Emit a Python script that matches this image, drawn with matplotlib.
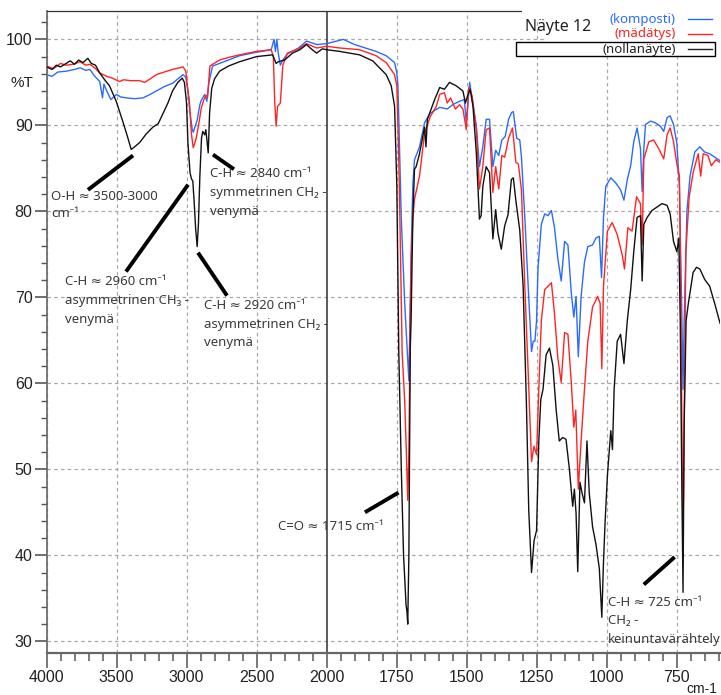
# IR-spektrit: komposti / mädätys / nollanäyte, yhteen kuvaan
import numpy as np
import matplotlib
matplotlib.use("Agg")
import matplotlib.pyplot as plt
from matplotlib.patches import Rectangle
from matplotlib.ticker import FixedLocator, NullFormatter

# aaltoluku (cm-1) ja läpäisy (%T), luettu spektreistä
wn_nolla = [4000, 3960, 3930, 3900, 3860, 3830, 3800, 3770, 3740, 3705, 3680, 3650, 3620, 3580, 3550,
            3502, 3452, 3420, 3395, 3371, 3335, 3288, 3240, 3202, 3170, 3133, 3100, 3062, 3031, 3015,
            3000, 2990, 2975, 2965, 2955, 2945, 2935, 2924, 2915, 2905, 2893, 2884, 2870, 2862, 2845,
            2835, 2820, 2800, 2764, 2700, 2621, 2500, 2385, 2360, 2345, 2300, 2243, 2190, 2143, 2110,
            2071, 2030, 2000, 1953, 1882, 1835, 1787, 1769, 1757, 1749, 1742, 1733, 1725, 1716, 1713,
            1710, 1706, 1703, 1701, 1698, 1692, 1686, 1680, 1668, 1650, 1645, 1640, 1614, 1596, 1579,
            1561, 1537, 1513, 1504, 1495, 1487, 1477, 1465, 1454, 1448, 1442, 1430, 1418, 1406, 1396,
            1388, 1376, 1364, 1352, 1340, 1333, 1323, 1310, 1298, 1286, 1278, 1268, 1259, 1250, 1242,
            1235, 1227, 1216, 1204, 1192, 1180, 1169, 1157, 1145, 1133, 1121, 1115, 1109, 1103, 1095,
            1088, 1079, 1070, 1062, 1050, 1038, 1026, 1017, 1011, 1005, 997, 985, 979, 973, 962,
            950, 938, 926, 914, 903, 891, 879, 873, 867, 855, 838, 820, 802, 784, 773,
            761, 749, 742, 737, 731, 727, 723, 716, 708, 691, 679, 667, 650, 632, 614, 595]
t_nolla = [96.8, 96.5, 97.0, 96.8, 97.2, 97.5, 97.1, 97.6, 97.3, 97.8, 97.2, 97.0, 96.1, 95.2, 94.6,
           92.8, 90.3, 88.6, 87.2, 87.5, 88.0, 89.0, 89.8, 90.2, 91.3, 92.6, 94.0, 95.0, 95.5, 95.0,
           92.6, 88.0, 84.5, 83.8, 83.5, 81.0, 78.0, 75.9, 78.5, 84.0, 88.5, 89.3, 88.9, 89.5, 86.8,
           91.5, 94.3, 95.4, 96.3, 96.9, 97.4, 98.0, 98.2, 97.2, 97.4, 97.6, 98.4, 98.8, 99.4, 98.9,
           98.4, 98.9, 98.8, 98.6, 98.2, 97.5, 95.9, 94.6, 92.2, 82.9, 63.6, 50.0, 40.0, 34.2, 33.5,
           32.0, 40.0, 55.0, 64.0, 67.4, 79.1, 84.9, 85.2, 86.7, 89.8, 87.5, 90.7, 93.0, 94.4, 94.2,
           95.0, 94.6, 94.0, 92.6, 93.6, 94.2, 92.2, 86.7, 79.1, 79.5, 82.9, 85.2, 84.5, 76.8, 80.2,
           77.5, 75.6, 78.3, 79.6, 83.7, 83.9, 81.0, 77.8, 71.3, 57.3, 45.3, 38.0, 41.7, 42.9, 53.3,
           58.1, 59.3, 63.3, 64.1, 62.1, 56.9, 53.3, 53.7, 53.5, 50.1, 45.7, 47.7, 44.9, 38.1, 48.5,
           47.3, 46.1, 53.3, 47.3, 43.3, 41.3, 38.5, 32.8, 39.3, 44.1, 49.3, 54.5, 52.3, 59.3, 64.9,
           65.7, 62.3, 67.3, 70.9, 75.3, 79.3, 79.5, 71.9, 78.5, 79.3, 80.1, 80.5, 80.9, 80.7, 79.7,
           76.5, 75.3, 76.9, 67.3, 47.3, 35.7, 55.3, 67.3, 69.3, 72.9, 73.5, 73.3, 72.1, 71.3, 69.3, 67.0]

wn_madatys = [4000, 3950, 3900, 3860, 3810, 3760, 3720, 3690, 3650, 3620, 3570, 3530, 3480, 3450, 3400,
              3335, 3300, 3260, 3215, 3160, 3100, 3025, 3005, 2990, 2980, 2965, 2952, 2940, 2931, 2912,
              2895, 2876, 2860, 2850, 2833, 2764, 2700, 2621, 2500, 2395, 2380, 2370, 2360, 2350, 2330,
              2312, 2280, 2200, 2143, 2070, 2000, 1953, 1882, 1823, 1787, 1757, 1749, 1745, 1740, 1730,
              1721, 1715, 1710, 1706, 1701, 1697, 1692, 1686, 1668, 1650, 1630, 1608, 1596, 1579, 1569,
              1557, 1540, 1525, 1513, 1501, 1492, 1480, 1465, 1454, 1442, 1430, 1418, 1406, 1396, 1385,
              1374, 1364, 1350, 1336, 1324, 1315, 1304, 1292, 1280, 1268, 1259, 1250, 1242, 1233, 1221,
              1209, 1197, 1186, 1174, 1162, 1150, 1138, 1126, 1117, 1110, 1101, 1091, 1079, 1067, 1050,
              1032, 1023, 1017, 1011, 997, 980, 962, 944, 936, 924, 909, 893, 879, 873, 867,
              849, 832, 814, 796, 784, 773, 761, 749, 740, 734, 730, 727, 723, 717, 705,
              691, 673, 664, 655, 638, 626, 610, 595]
t_madatys = [96.9, 96.6, 97.2, 97.0, 97.1, 97.4, 97.0, 97.1, 96.6, 96.1, 95.7, 95.5, 95.1, 95.3, 95.2,
             95.2, 95.0, 95.4, 95.9, 96.2, 96.5, 96.8, 96.3, 94.0, 92.9, 89.0, 87.4, 88.0, 88.5, 90.2,
             92.0, 93.0, 93.5, 93.2, 96.9, 97.6, 97.9, 98.2, 98.6, 98.8, 98.0, 92.7, 89.9, 92.2, 92.6,
             97.0, 98.4, 98.9, 99.5, 99.0, 99.2, 99.0, 98.8, 98.1, 97.3, 95.9, 94.6, 90.0, 82.9, 63.6,
             58.0, 52.0, 46.4, 52.0, 68.0, 75.0, 79.1, 81.4, 84.1, 89.1, 91.0, 92.2, 93.6, 93.8, 92.6,
             93.2, 91.9, 92.4, 91.9, 89.5, 94.4, 93.4, 89.5, 82.6, 85.2, 89.5, 89.7, 82.2, 85.2, 82.6,
             86.5, 86.3, 88.5, 89.7, 85.7, 85.5, 82.5, 71.3, 61.3, 50.9, 52.7, 51.7, 59.3, 67.3, 70.9,
             71.3, 71.7, 68.1, 62.9, 60.1, 65.9, 65.7, 60.1, 54.9, 56.9, 47.7, 53.3, 59.3, 64.9, 68.9,
             70.1, 69.3, 61.7, 71.3, 77.7, 78.7, 77.3, 74.9, 73.3, 78.1, 77.7, 81.7, 80.9, 76.1, 86.1,
             88.1, 88.3, 87.3, 86.1, 88.9, 89.7, 88.1, 85.5, 84.1, 67.3, 50.0, 42.0, 55.0, 75.3, 81.7,
             84.5, 86.7, 84.1, 86.7, 86.5, 85.3, 86.0, 85.7]

wn_komposti = [4000, 3960, 3920, 3860, 3800, 3760, 3720, 3690, 3660, 3620, 3600, 3590, 3570, 3540, 3500,
               3470, 3430, 3370, 3310, 3260, 3215, 3160, 3100, 3025, 3005, 2990, 2975, 2960, 2952, 2940,
               2924, 2905, 2895, 2870, 2855, 2840, 2814, 2700, 2621, 2500, 2395, 2375, 2365, 2355, 2345,
               2330, 2312, 2280, 2200, 2143, 2070, 2000, 1940, 1900, 1823, 1787, 1757, 1749, 1745, 1733,
               1721, 1706, 1698, 1692, 1686, 1668, 1650, 1630, 1596, 1569, 1550, 1525, 1508, 1501, 1489,
               1480, 1465, 1454, 1442, 1430, 1418, 1406, 1396, 1385, 1374, 1362, 1350, 1339, 1333, 1321,
               1310, 1304, 1292, 1280, 1268, 1262, 1256, 1250, 1245, 1233, 1221, 1209, 1197, 1186, 1174,
               1162, 1150, 1138, 1126, 1117, 1109, 1101, 1091, 1079, 1067, 1050, 1038, 1026, 1018, 1011,
               1003, 985, 967, 950, 938, 926, 914, 903, 891, 879, 873, 867, 861, 843, 826,
               808, 796, 784, 773, 761, 749, 740, 731, 727, 723, 713, 702, 685, 667, 650,
               632, 614, 595]
t_komposti = [95.9, 95.7, 96.2, 96.3, 96.5, 96.7, 96.4, 96.5, 95.8, 95.1, 93.2, 94.8, 94.0, 93.0, 93.6,
              93.3, 93.2, 93.1, 93.2, 93.6, 94.0, 94.5, 94.9, 95.9, 95.6, 94.0, 91.5, 89.6, 89.2, 89.8,
              90.6, 92.4, 92.9, 93.6, 92.8, 95.0, 96.9, 97.6, 98.1, 98.5, 98.8, 100.0, 98.6, 100.0, 98.4,
              97.0, 97.6, 98.3, 99.0, 99.8, 99.4, 99.5, 100.0, 99.4, 98.6, 98.1, 97.3, 96.1, 94.6, 79.1,
              69.4, 60.3, 75.0, 83.0, 86.0, 87.5, 90.3, 91.4, 92.1, 91.9, 92.4, 92.8, 93.0, 90.3, 95.0,
              93.0, 89.9, 85.2, 87.5, 90.7, 90.7, 85.2, 87.1, 86.5, 88.3, 88.7, 90.7, 91.5, 91.6, 88.5,
              88.3, 86.3, 79.3, 71.3, 63.7, 64.9, 64.9, 67.3, 73.3, 78.5, 79.7, 79.5, 80.1, 78.1, 74.5,
              71.9, 76.5, 76.1, 70.5, 67.7, 70.1, 63.1, 70.1, 74.1, 75.9, 76.1, 76.9, 77.1, 72.3, 79.3,
              82.9, 83.9, 83.3, 82.5, 81.3, 83.7, 85.3, 88.1, 89.7, 87.3, 82.3, 87.3, 90.1, 90.5, 90.3,
              89.9, 89.3, 90.9, 91.1, 90.1, 87.9, 82.9, 67.3, 59.3, 67.3, 80.1, 84.1, 86.9, 87.5, 86.9,
              86.7, 86.3, 85.9]

x_major = [4000, 3500, 3000, 2500, 2000, 1750, 1500, 1250, 1000, 750]
y_major = [30, 40, 50, 60, 70, 80, 90, 100]


# alle 2000 cm-1 x-akseli on venytetty kaksinkertaiseksi
def eteen(x):
    x = np.asarray(x, dtype=float)
    return np.where(x >= 2000, x, 2 * x - 2000)


def taakse(u):
    u = np.asarray(u, dtype=float)
    return np.where(u >= 2000, u, (u + 2000) / 2)


W, H = 721, 695
fig = plt.figure(figsize=(W / 100, H / 100), dpi=100)
ax = fig.add_axes([46.5 / W, 42.5 / H, (720 - 46.5) / W, (652.5 - 11) / H])

ax.set_xscale("function", functions=(eteen, taakse))
ax.set_xlim(4000, 595)
ax.set_ylim(28.7, 103.3)

ax.plot(wn_komposti, t_komposti, color="#2a6bff", lw=1.0, zorder=3)
ax.plot(wn_madatys, t_madatys, color="#ff2424", lw=1.0, zorder=4)
ax.plot(wn_nolla, t_nolla, color="#111111", lw=1.0, zorder=5)

# ruudukko
viiva = dict(color="#a8a8a8", lw=0.9, ls=(0, (2.8, 2.6)), zorder=1)
for x in x_major:
    if x != 2000:
        ax.axvline(x, **viiva)
for y in y_major:
    ax.axhline(y, **viiva)
ax.axvline(2000, color="#303030", lw=1.1, zorder=2)

# akselit
ax.spines["right"].set_visible(False)
ax.spines["top"].set_color("#333333")
ax.spines["top"].set_linewidth(0.9)
ax.spines["left"].set_color("#666666")
ax.spines["left"].set_linewidth(1.2)
ax.spines["bottom"].set_color("#666666")
ax.spines["bottom"].set_linewidth(1.6)

x_minor = list(range(3900, 2000, -100)) + list(range(1950, 599, -50))
ax.xaxis.set_major_locator(FixedLocator(x_major))
ax.xaxis.set_minor_locator(FixedLocator([v for v in x_minor if v not in x_major]))
ax.yaxis.set_major_locator(FixedLocator(y_major))
ax.yaxis.set_minor_locator(FixedLocator([v for v in range(30, 104, 2) if v % 10 != 0]))
ax.set_xticklabels([str(v) for v in x_major])
ax.set_yticklabels([str(v) for v in y_major])
ax.yaxis.set_minor_formatter(NullFormatter())
ax.xaxis.set_minor_formatter(NullFormatter())

tick_font = ["Liberation Sans", "DejaVu Sans"]
ax.tick_params(axis="x", which="major", direction="out", length=10.8, width=1.1, color="#555555",
               pad=1.5, labelsize=11.5, top=False)
ax.tick_params(axis="x", which="minor", direction="out", length=5.8, width=1.1, color="#555555", top=False)
ax.tick_params(axis="y", which="major", direction="out", length=9, width=1.2, color="#555555",
               pad=1, labelsize=11.5, right=False)
ax.tick_params(axis="y", which="minor", direction="out", length=4.3, width=1, color="#555555", right=False)
for lab in ax.get_xticklabels() + ax.get_yticklabels():
    lab.set_family(tick_font)
    lab.set_color("#222222")

fig.text(22 / W, 1 - 83 / H, "%T", ha="center", va="center", fontsize=11, family=tick_font, color="#222222")
fig.text(717 / W, 1 - 689 / H, "cm-1", ha="right", va="center", fontsize=10, family=tick_font, color="#222222")

# selitteet
sel_font = ["Noto Sans", "DejaVu Sans"]
fig.patches.append(Rectangle((545 / W, 1 - 41 / H), 176 / W, 41 / H, transform=fig.transFigure,
                             facecolor="white", edgecolor="none", zorder=5))
fig.patches.append(Rectangle((522 / W, 1 - 20 / H), 30 / W, 20 / H, transform=fig.transFigure,
                             facecolor="white", edgecolor="none", zorder=5))
fig.patches.append(Rectangle((516 / W, 1 - 56 / H), 199 / W, 14 / H, transform=fig.transFigure,
                             facecolor="white", edgecolor="black", lw=1.0, zorder=6))
fig.text(525 / W, 1 - 27 / H, "Näyte 12", ha="left", va="center", fontsize=11.5,
         family=sel_font, color="#222222", zorder=7)
selite = [("(komposti)", "#2a6bff", 19), ("(mädätys)", "#ff2424", 34), ("(nollanäyte)", "#222222", 49)]
for teksti, vari, yp in selite:
    fig.text(676 / W, 1 - yp / H, teksti, ha="right", va="center", fontsize=9.5,
             family=sel_font, color=vari, zorder=7)
    fig.lines.append(plt.Line2D([688 / W, 712 / W], [1 - yp / H, 1 - yp / H], transform=fig.transFigure,
                                color=vari, lw=1.0, zorder=7))

# piikkien selitykset
huom = [
    ((3382, 86.5), (3704, 82.5), (3968, [81.7, 79.8]), ["O-H ≈ 3500-3000", "cm⁻¹"]),
    ((2811, 86.6), (2661, 84.9), (2832, [84.4, 82.2, 80.0]), ["C-H ≈ 2840 cm⁻¹", "symmetrinen CH₂ -", "venymä"]),
    ((2989, 83.1), (3432, 73.0), (3868, [71.8, 69.6, 67.4]), ["C-H ≈ 2960 cm⁻¹", "asymmetrinen CH₃ -", "venymä"]),
    ((2918, 75.2), (2711, 70.2), (2875, [69.1, 66.9, 64.7]), ["C-H ≈ 2920 cm⁻¹", "asymmetrinen CH₂ -", "venymä"]),
    ((1743, 47.3), (1863, 45.0), (2346, [43.3]), ["C=O ≈ 1715 cm⁻¹"]),
    ((757, 39.8), (867, 36.6), (995, [34.5, 32.4, 30.2]), ["C-H ≈ 725 cm⁻¹", "CH₂ -", "keinuntavärähtely"]),
]
for p1, p2, (tx, tys), rivit in huom:
    ax.plot([p1[0], p2[0]], [p1[1], p2[1]], color="black", lw=2.8, solid_capstyle="butt", zorder=6)
    for ty, rivi in zip(tys, rivit):
        ax.text(tx, ty, rivi, ha="left", va="center", fontsize=9.5, family=sel_font,
                color="#3a3a3a", zorder=7)

fig.savefig("out.png", dpi=100)
